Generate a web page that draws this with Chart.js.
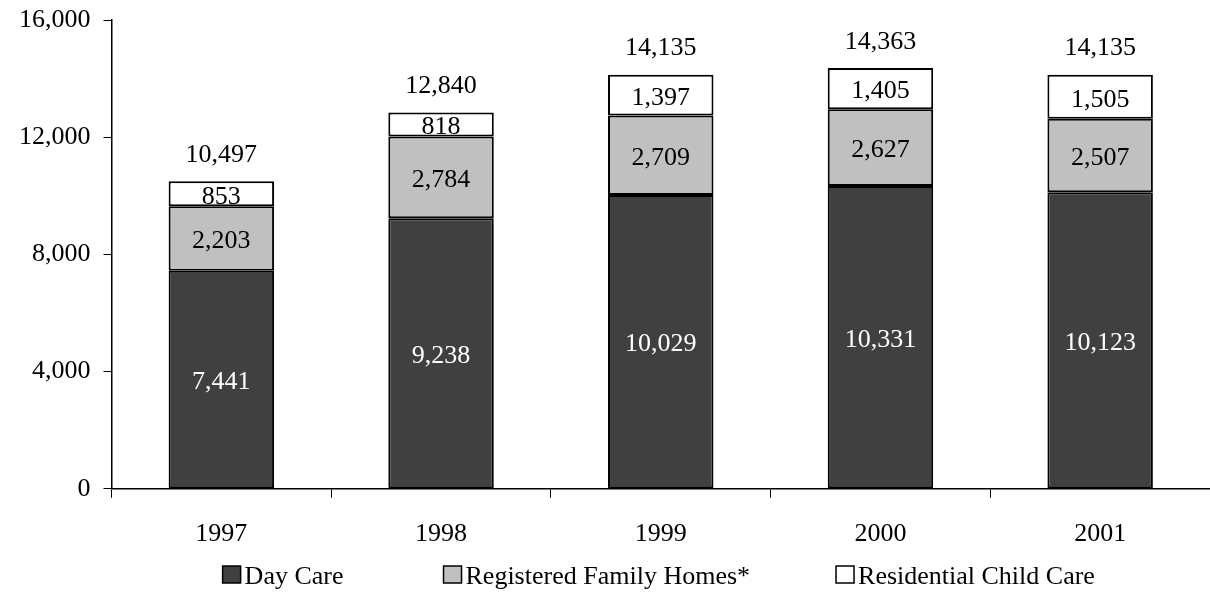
<!DOCTYPE html>
<html>
<head>
<meta charset="utf-8">
<script src="https://cdn.jsdelivr.net/npm/chart.js@4/dist/chart.umd.min.js"></script>
<style>
  html, body { margin: 0; padding: 0; background: #fff; }
  #wrap { width: 1210px; height: 596px; }
</style>
</head>
<body>
<div id="wrap"><canvas id="bar-chart"></canvas></div>
<script>
const years = ["1997", "1998", "1999", "2000", "2001"];
const dayCare = [7441, 9238, 10029, 10331, 10123];
const familyHomes = [2203, 2784, 2709, 2627, 2507];
const residential = [853, 818, 1397, 1405, 1505];
const totals = [10497, 12840, 14135, 14363, 14135];
const yTicks = [0, 4000, 8000, 12000, 16000];

const serif = "'Liberation Serif', 'DejaVu Serif', serif";
Chart.defaults.font.family = serif;
Chart.defaults.font.size = 26;
Chart.defaults.color = "#000";

const fmt = (v) => v.toLocaleString("en-US");

// draws the value inside each segment and the total above each bar
const barLabels = {
  id: "barLabels",
  afterDatasetsDraw(chart) {
    const ctx = chart.ctx;
    ctx.save();
    ctx.font = "26px " + serif;
    ctx.textAlign = "center";
    ctx.textBaseline = "middle";
    chart.data.datasets.forEach((ds, i) => {
      const meta = chart.getDatasetMeta(i);
      meta.data.forEach((bar, j) => {
        const mid = (bar.y + bar.base) / 2;
        ctx.fillStyle = i === 0 ? "#fff" : "#000";
        ctx.fillText(fmt(ds.data[j]), bar.x, mid + 3);
      });
    });
    const top = chart.getDatasetMeta(chart.data.datasets.length - 1);
    top.data.forEach((bar, j) => {
      ctx.fillStyle = "#000";
      ctx.fillText(fmt(totals[j]), bar.x, bar.y - 26);
    });
    ctx.restore();
  },
};

// legend drawn by hand: box hugging its text, wide gaps between entries
const bottomLegend = {
  id: "bottomLegend",
  afterDraw(chart) {
    const ctx = chart.ctx;
    const box = 18, gap = 4;
    const spacing = [100, 86];
    const items = chart.data.datasets;
    ctx.save();
    ctx.font = "26px " + serif;
    ctx.textBaseline = "middle";
    const widths = items.map((ds) => box + gap + ctx.measureText(ds.label).width);
    const total = widths.reduce((a, b) => a + b, 0) + spacing[0] + spacing[1];
    const cx = (chart.chartArea.left + chart.chartArea.right) / 2 - 2;
    const cy = 575;
    let x = cx - total / 2;
    items.forEach((ds, i) => {
      ctx.fillStyle = ds.backgroundColor;
      ctx.fillRect(x, cy - box / 2, box, box - 1);
      ctx.strokeStyle = "#000";
      ctx.lineWidth = 1.5;
      ctx.strokeRect(x, cy - box / 2, box, box - 1);
      ctx.fillStyle = "#000";
      ctx.fillText(ds.label, x + box + gap, cy + 2);
      x += widths[i] + (spacing[i] || 0);
    });
    ctx.restore();
  },
};

const config = {
  type: "bar",
  data: {
    labels: years,
    datasets: [
      { label: "Day Care", data: dayCare, backgroundColor: "#404040" },
      { label: "Registered Family Homes*", data: familyHomes, backgroundColor: "#c0c0c0" },
      { label: "Residential Child Care", data: residential, backgroundColor: "#ffffff" },
    ].map((d) => ({
      ...d,
      borderColor: "#000",
      borderWidth: 2,
      borderSkipped: false,
      barPercentage: 0.48,
      categoryPercentage: 1,
    })),
  },
  options: {
    responsive: true,
    maintainAspectRatio: false,
    animation: false,
    layout: { padding: { top: 20, right: 0, left: 6, bottom: 25 } },
    plugins: {
      tooltip: { enabled: false },
      legend: { display: false },
    },
    scales: {
      x: {
        stacked: true,
        border: { color: "#000", width: 1.5 },
        grid: {
          offset: true,
          drawOnChartArea: false,
          drawTicks: true,
          tickLength: 9,
          color: "#000",
          lineWidth: 1,
        },
        ticks: { padding: 21, color: "#000" },
      },
      y: {
        stacked: true,
        min: 0,
        max: 16000,
        afterBuildTicks(axis) {
          axis.ticks = yTicks.map((v) => ({ value: v }));
        },
        border: { color: "#000", width: 1.5 },
        grid: {
          drawOnChartArea: false,
          drawTicks: true,
          tickLength: 8,
          color: "#000",
          lineWidth: 1,
        },
        ticks: {
          padding: 13,
          color: "#000",
          font: { size: 26, lineHeight: 0.5 },
          callback: (v) => fmt(v),
        },
      },
    },
  },
  plugins: [barLabels, bottomLegend],
};

new Chart(document.getElementById("bar-chart").getContext("2d"), config);
</script>
</body>
</html>
